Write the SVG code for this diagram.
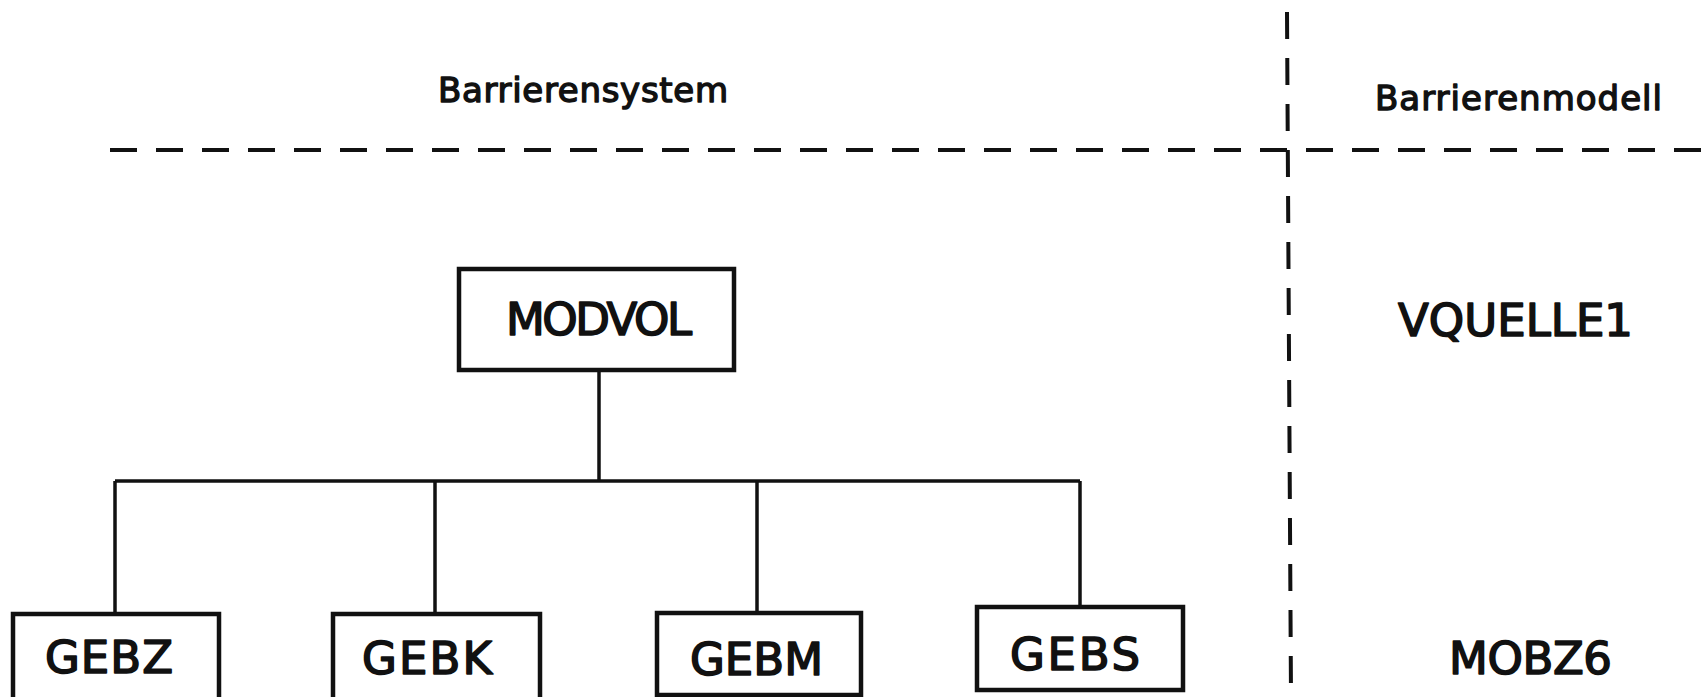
<svg xmlns="http://www.w3.org/2000/svg" width="1704" height="697" viewBox="0 0 1704 697">
<style>
.bg{fill:#ffffff}
.box{fill:#ffffff;stroke:#111;stroke-width:4.5}
.con{fill:none;stroke:#111;stroke-width:3.5}
.dash{fill:none;stroke:#111;stroke-width:4;stroke-dasharray:27 19}
.lbl{font-family:"DejaVu Sans","Liberation Sans",sans-serif;fill:#111;stroke:#111;stroke-linejoin:round}
.big{font-size:45px;stroke-width:1.6}
.hdr{font-size:34px;stroke-width:1.4}
</style>
<rect class="bg" x="0" y="0" width="1704" height="697"/>
<g id="separators">
<line class="dash" x1="110" y1="150" x2="1704" y2="150"/>
<line class="dash" x1="1287" y1="12" x2="1291" y2="697"/>
</g>
<g id="headers">
<text class="lbl hdr" x="438" y="102" textLength="290" lengthAdjust="spacing">Barrierensystem</text>
<text class="lbl hdr" x="1375" y="110" textLength="287" lengthAdjust="spacing">Barrierenmodell</text>
</g>
<g id="connectors">
<line class="con" x1="599" y1="370" x2="599" y2="481"/>
<line class="con" x1="115" y1="481" x2="1080" y2="481"/>
<line class="con" x1="115" y1="481" x2="115" y2="614"/>
<line class="con" x1="435" y1="481" x2="435" y2="614"/>
<line class="con" x1="757" y1="481" x2="757" y2="613"/>
<line class="con" x1="1080" y1="481" x2="1080" y2="607"/>
</g>
<g id="MODVOL">
<rect class="box" x="459" y="269" width="275" height="101"/>
<text class="lbl big" x="506" y="335" textLength="186" lengthAdjust="spacing">MODVOL</text>
</g>
<g id="GEBZ">
<rect class="box" x="13" y="614" width="206" height="100"/>
<text class="lbl big" x="45" y="673" textLength="128" lengthAdjust="spacing">GEBZ</text>
</g>
<g id="GEBK">
<rect class="box" x="333" y="614" width="207" height="100"/>
<text class="lbl big" x="362" y="674" textLength="130" lengthAdjust="spacing">GEBK</text>
</g>
<g id="GEBM">
<rect class="box" x="657" y="613" width="204" height="82"/>
<text class="lbl big" x="690" y="675" textLength="133" lengthAdjust="spacing">GEBM</text>
</g>
<g id="GEBS">
<rect class="box" x="977" y="607" width="206" height="83"/>
<text class="lbl big" x="1010" y="670" textLength="130" lengthAdjust="spacing">GEBS</text>
</g>
<g id="VQUELLE1">
<text class="lbl big" x="1398" y="336" textLength="235" lengthAdjust="spacing">VQUELLE1</text>
</g>
<g id="MOBZ6">
<text class="lbl big" x="1449" y="674" textLength="163" lengthAdjust="spacing">MOBZ6</text>
</g>
</svg>
